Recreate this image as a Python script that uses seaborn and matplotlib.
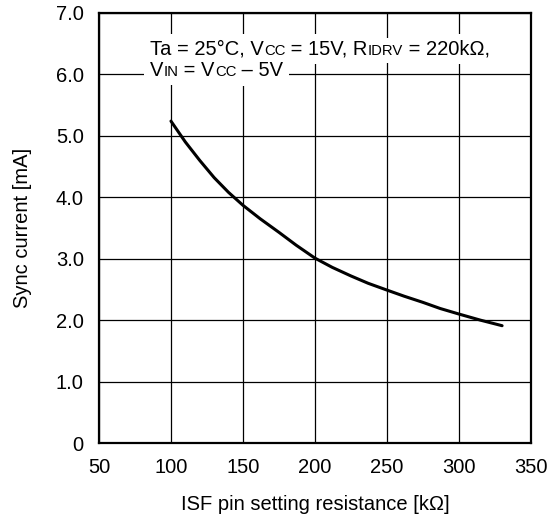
import matplotlib
matplotlib.use("Agg")
import matplotlib.pyplot as plt
import seaborn as sns
import pandas as pd

# Sync current vs. ISF pin setting resistance
resistance_kohm = [100, 110, 120, 130, 140, 150, 162, 175, 187, 200,
                   212, 225, 237, 250, 262, 275, 287, 300, 315, 330]
sync_current_ma = [5.24, 4.90, 4.60, 4.32, 4.08, 3.87, 3.65, 3.43, 3.22, 3.01,
                   2.86, 2.72, 2.60, 2.49, 2.39, 2.29, 2.19, 2.10, 2.00, 1.91]

x_ticks = [50, 100, 150, 200, 250, 300, 350]
y_ticks = [0, 1, 2, 3, 4, 5, 6, 7]
y_tick_labels = ["0", "1.0", "2.0", "3.0", "4.0", "5.0", "6.0", "7.0"]

df = pd.DataFrame({"R": resistance_kohm, "I": sync_current_ma})

sns.set_theme(style="white")
plt.rcParams["font.family"] = ["Liberation Sans", "DejaVu Sans"]
FS = 14.5

fig = plt.figure(figsize=(5.53, 5.20), dpi=100)
ax = fig.add_axes([0.179, 0.148, 0.781, 0.827])

sns.lineplot(data=df, x="R", y="I", ax=ax, color="black", linewidth=2.2, zorder=3)

ax.set_xlim(50, 350)
ax.set_ylim(0, 7)
ax.set_xticks(x_ticks)
ax.set_yticks(y_ticks)
ax.set_yticklabels(y_tick_labels)
ax.tick_params(axis="both", length=0, labelsize=FS, colors="black")
ax.tick_params(axis="x", pad=11)
ax.tick_params(axis="y", pad=11)
ax.grid(True, color="black", linewidth=0.9)
ax.set_axisbelow(True)
for s in ax.spines.values():
    s.set_color("black")
    s.set_linewidth(1.6)

ax.set_xlabel("ISF pin setting resistance [kΩ]", fontsize=FS, labelpad=13, color="black")
ax.set_ylabel("Sync current [mA]", fontsize=FS, labelpad=17, color="black")

# Condition text, with small-caps subscripts drawn at a reduced size
TFS = 14.5
SMALL = TFS * 0.74


def text_line(x0, y0, pieces, color, bbox, z):
    prev = None
    for txt, size in pieces:
        if prev is None:
            prev = ax.text(x0, y0, txt, fontsize=size, va="baseline", ha="left",
                           color=color, bbox=bbox, zorder=z)
        else:
            prev = ax.annotate(txt, xy=(1, y0), xycoords=(prev, "data"),
                               fontsize=size, va="baseline", ha="left",
                               color=color, bbox=bbox, zorder=z)


line1 = [("Ta = 25°C, V", TFS), ("CC", SMALL), (" = 15V, R", TFS),
         ("IDRV", SMALL), (" = 220kΩ,", TFS)]
line2 = [("V", TFS), ("IN", SMALL), (" = V", TFS), ("CC", SMALL), (" – 5V", TFS)]

box = dict(facecolor="white", edgecolor="none", pad=4)
for line, y in ((line1, 6.32), (line2, 5.97)):
    # white backing first, then the glyphs on top
    text_line(85.5, y, line, "none", box, 4)
    text_line(85.5, y, line, "black", None, 5)

fig.savefig("out.png", dpi=100, facecolor="white")
